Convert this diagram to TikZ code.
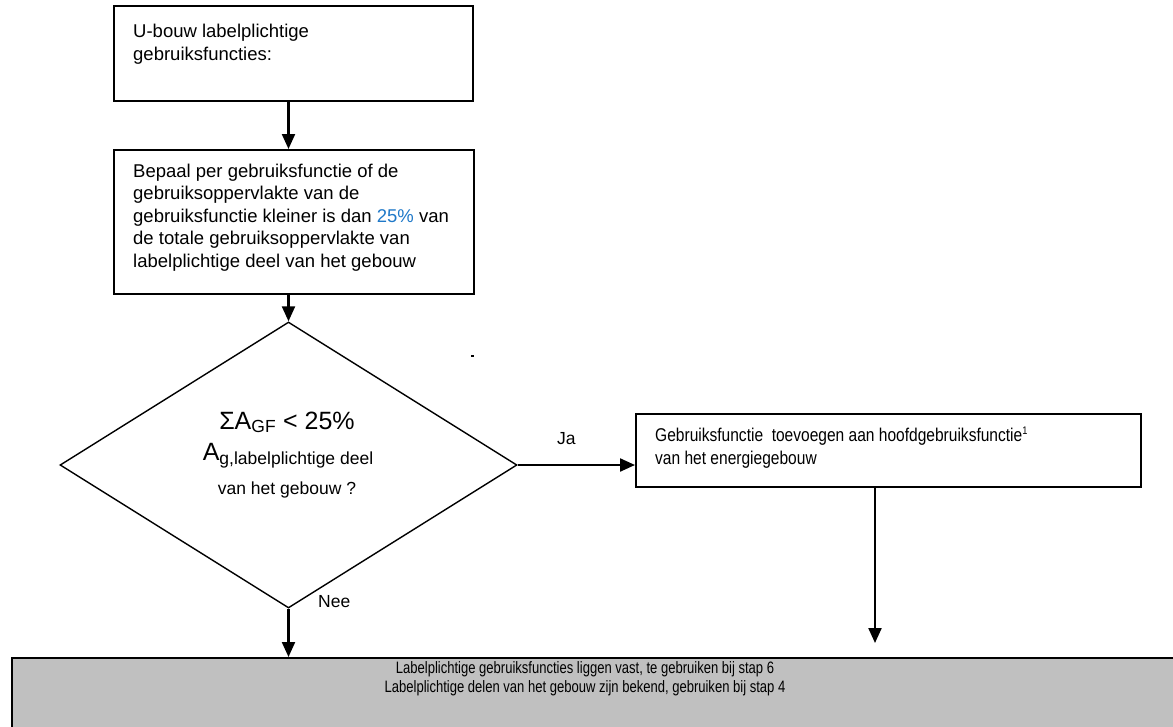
\documentclass[tikz,border=0pt]{standalone}
\usepackage{fontspec}
\setmainfont{Liberation Sans}
\newfontfamily\narrowsans[FakeStretch=0.84]{Liberation Sans}
\newfontfamily\narrowersans[FakeStretch=0.79]{Liberation Sans}
\usetikzlibrary{arrows.meta,shapes.geometric}
\definecolor{pctblue}{RGB}{30,120,200}
\definecolor{resultgray}{RGB}{192,192,192}
\begin{document}
\begin{tikzpicture}[x=1pt,y=-1pt,
  box/.style={draw=black, line width=2pt, inner sep=0pt, anchor=north west},
  flow/.style={line width=2.2pt, -{Triangle[length=15pt,width=13pt]}},
  body/.style={font=\fontsize{18.5}{22.5}\selectfont, anchor=base west, inner sep=0pt, align=left},
  narrowbody/.style={font=\narrowsans\fontsize{18.5}{23}\selectfont, anchor=base west, inner sep=0pt, align=left},
  resulttext/.style={font=\narrowersans\fontsize{16.5}{19}\selectfont, anchor=base, inner sep=0pt},
  small/.style={font=\fontsize{17.5}{21}\selectfont, inner sep=0pt},
]
\useasboundingbox (0,0) rectangle (1173,726);

% process boxes (text nodes are anchored at the baseline of their last line)
\node[box, minimum width=359pt, minimum height=95pt] (start) at (113,5) {};
\node[body] (startText) at (133,60) {U-bouw labelplichtige\\gebruiksfuncties:};

\node[box, minimum width=360pt, minimum height=144pt] (determine) at (113,149) {};
\node[body] (determineText) at (133,267) {Bepaal per gebruiksfunctie of de\\
  gebruiksoppervlakte van de\\
  gebruiksfunctie kleiner is dan \textcolor{pctblue}{25\%} van\\
  de totale gebruiksoppervlakte van\\
  labelplichtige deel van het gebouw};

% decision
\node[draw, diamond, line width=1.4pt, inner sep=0pt,
      minimum width=457pt, minimum height=286pt] (test) at (288.5,465) {};
\node[font=\fontsize{25}{30}\selectfont, anchor=base, inner sep=0pt] (testA) at (287,429)
  {ΣA\textsubscript{GF} < 25\%};
\node[anchor=base, inner sep=0pt] (testB) at (288,460)
  {{\fontsize{25}{30}\selectfont A}\raisebox{-4pt}{\fontsize{17.5}{21}\selectfont g,labelplichtige deel}};
\node[small, anchor=base] (testC) at (287,494) {van het gebouw ?};

% yes branch
\node[box, minimum width=505pt, minimum height=73pt] (merge) at (635,413) {};
\node[narrowbody] (mergeText) at (655,464) {Gebruiksfunctie\ \ toevoegen aan hoofdgebruiksfunctie\textsuperscript{\fontsize{11}{11}\selectfont 1}\\
  van het energiegebouw};

% result bar
\node[draw=black, fill=resultgray, line width=2pt, anchor=north west, inner sep=0pt,
      minimum width=1200pt, minimum height=100pt] (result) at (11,657) {};
\node[resulttext] (resultA) at (585,673)
  {Labelplichtige gebruiksfuncties liggen vast, te gebruiken bij stap 6};
\node[resulttext] (resultB) at (585,692)
  {Labelplichtige delen van het gebouw zijn bekend, gebruiken bij stap 4};

% labels
\node[small, anchor=base west] (yes) at (557,444) {Ja};
\node[small, anchor=base west] (no) at (318,607) {Nee};

% stray mark
\fill (471,355) rectangle (474,357);

% connectors
\coordinate (mergeEnd) at (875,643);
\draw[flow] (start.south -| test.north) -- (determine.north -| test.north);
\draw[flow] (determine.south -| test.north) -- (test.north);
\draw[flow] (test.east) -- (test.east -| merge.west);
\draw[flow] (merge.south -| mergeEnd) -- (mergeEnd);
\draw[flow] (test.south) -- (test.south |- result.north);
\end{tikzpicture}
\end{document}
